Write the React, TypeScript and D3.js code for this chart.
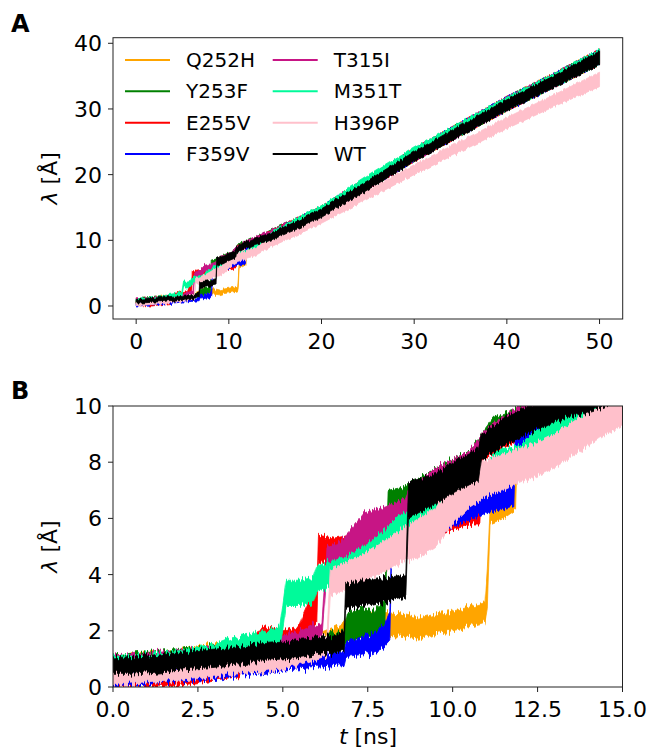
import React from 'react';
import * as d3 from 'd3';

type Knot = [number, number, number]; // [t (ns), lower λ (Å), upper λ (Å)] noise envelope

const seriesNames = ['Q252H', 'Y253F', 'E255V', 'F359V', 'T315I', 'M351T', 'H396P', 'WT'];
const seriesColors = ['orange', 'green', 'red', 'blue', 'mediumvioletred', 'mediumspringgreen', 'pink', 'black'];

const ticksAx = [0, 10, 20, 30, 40, 50];
const ticksAy = [0, 10, 20, 30, 40];
const ticksBx = [0, 2.5, 5, 7.5, 10, 12.5, 15];
const ticksBy = [0, 2, 4, 6, 8, 10];

const bundleTail: Knot[] = [
  [17.5, 11.9, 13.4], [20, 13.6, 15.1], [25, 17.8, 19.5], [30, 22.1, 23.9],
  [35, 26.0, 27.9], [40, 29.8, 31.8], [45, 33.3, 35.3], [50, 36.8, 39.0],
];
const springTail: Knot[] = [
  [17.5, 12.0, 13.5], [20, 13.7, 15.3], [25, 18.0, 19.8], [30, 22.3, 24.1],
  [35, 26.2, 28.0], [40, 29.9, 31.8], [45, 33.3, 35.3], [50, 36.8, 39.1],
];
const wtTail: Knot[] = [
  [17.5, 11.8, 13.0], [20, 13.5, 14.8], [25, 17.7, 19.1], [30, 22.0, 23.5],
  [35, 25.9, 27.5], [40, 29.7, 31.4], [45, 33.2, 35.0], [50, 36.7, 38.8],
];
const pinkTail: Knot[] = [
  [17.5, 10.9, 12.1], [20, 12.6, 13.9], [25, 16.3, 17.7], [30, 20.0, 21.5],
  [35, 23.5, 25.1], [40, 27.0, 28.7], [45, 30.3, 32.1], [50, 33.4, 35.6],
];

const Q252H: Knot[] = [
  [0, 0.5, 1.05], [2, 0.7, 1.3], [2.75, 0.8, 1.5], [4, 0.9, 1.5], [5, 1.0, 1.65], [6, 1.2, 1.85],
  [6.5, 1.6, 2.1], [7, 1.7, 2.4], [7.5, 1.8, 2.6], [8, 1.85, 2.65], [8.5, 1.8, 2.6], [9, 1.7, 2.45],
  [9.5, 1.9, 2.6], [10, 2.0, 2.7], [10.5, 2.15, 2.85], [10.95, 2.3, 3.0], [11.02, 2.8, 4.2],
  [11.1, 5.8, 6.3], [11.5, 6.0, 6.8], [11.85, 6.3, 7.1], [11.9, 8.3, 9.2], [12.5, 8.8, 9.8],
  [13, 9.2, 10.2], [14, 9.8, 10.9], [15, 10.3, 11.7], ...bundleTail,
];
const Y253F: Knot[] = [
  [0, 0.55, 1.1], [2, 0.75, 1.35], [4, 0.95, 1.55], [6, 1.2, 1.8], [6.8, 1.35, 2.0],
  [6.9, 1.6, 2.6], [7.3, 1.7, 2.8], [7.7, 1.75, 2.7], [8.0, 1.9, 3.1], [8.1, 6.2, 7.0],
  [8.5, 6.3, 7.1], [9.0, 6.7, 7.4], [9.5, 7.0, 7.8], [10, 7.3, 8.1], [10.5, 7.6, 8.4],
  [10.9, 8.2, 9.1], [11.2, 8.6, 9.6], [12, 9.0, 9.95], [12.5, 9.3, 10.3], [13, 9.6, 10.6],
  [14, 10.1, 11.2], [15, 10.5, 11.9], ...bundleTail,
];
const E255V: Knot[] = [
  [0, 0.05, 0.5], [1, 0.05, 0.5], [1.7, 0.0, 0.45], [2.2, 0.1, 0.5], [3, 0.25, 0.65],
  [3.6, 0.35, 0.75], [3.7, 0.4, 0.8], [4.1, 1.2, 1.7], [4.4, 1.5, 2.2], [5, 1.55, 2.0],
  [5.5, 1.6, 2.2], [5.6, 1.7, 2.6], [5.85, 2.0, 3.3], [6.0, 2.2, 3.4], [6.05, 4.4, 5.4],
  [6.5, 4.5, 5.3], [7, 4.5, 5.4], [7.5, 4.7, 5.6], [8, 4.9, 5.9], [8.5, 5.1, 6.1],
  [9, 5.3, 6.2], [9.5, 5.4, 6.3], [10, 5.6, 6.4], [10.6, 5.8, 6.6], [10.8, 5.8, 6.6],
  [10.9, 8.1, 9.0], [11.5, 8.5, 9.5], [12, 8.8, 9.8], [13, 9.4, 10.4], [14, 9.9, 11.0],
  [15, 10.4, 11.7], ...bundleTail,
];
const F359V: Knot[] = [
  [0, 0.0, 0.45], [1, 0.1, 0.55], [2, 0.2, 0.65], [3, 0.3, 0.8], [4, 0.45, 0.9], [5, 0.6, 1.0],
  [6, 0.7, 1.15], [6.8, 0.8, 1.3], [6.85, 1.05, 1.6], [7.2, 1.1, 1.7], [7.6, 1.2, 1.9],
  [8.0, 1.4, 2.2], [8.15, 1.6, 2.6], [8.22, 5.5, 6.3], [8.8, 5.4, 6.2], [9.4, 5.4, 6.1],
  [9.8, 5.6, 6.4], [10.2, 5.8, 6.6], [10.6, 6.0, 6.9], [11, 6.2, 7.1], [11.4, 6.3, 7.2],
  [11.8, 6.45, 7.3], [11.85, 8.4, 9.3], [12.5, 8.9, 9.8], [13, 9.2, 10.2], [14, 9.8, 10.8],
  [15, 10.3, 11.5], ...bundleTail,
];
const T315I: Knot[] = [
  [0, 0.55, 1.1], [2, 0.75, 1.3], [4, 0.95, 1.55], [5.5, 1.3, 2.0], [5.9, 1.6, 2.25],
  [6.15, 1.7, 2.2], [6.3, 4.2, 5.0], [6.6, 4.3, 5.1], [7, 4.6, 5.6], [7.4, 5.0, 6.2],
  [8.0, 5.2, 6.4], [8.6, 5.5, 6.7], [8.7, 6.0, 7.0], [9, 6.5, 7.3], [9.5, 7.0, 7.8],
  [10, 7.3, 8.1], [10.5, 7.6, 8.4], [11, 8.3, 9.2], [11.6, 8.8, 9.7], [12.4, 9.3, 10.3],
  [13, 9.6, 10.6], [14, 10.1, 11.2], [15, 10.5, 11.9], ...bundleTail,
];
const M351T: Knot[] = [
  [0, 0.55, 1.1], [0.5, 0.6, 1.1], [1, 0.65, 1.15], [2, 0.75, 1.3], [2.5, 0.85, 1.4],
  [3, 0.95, 1.5], [3.5, 1.1, 1.75], [4, 1.2, 1.85], [4.5, 1.35, 2.0], [4.9, 1.4, 2.1],
  [5.0, 2.0, 2.9], [5.1, 2.9, 3.8], [5.5, 2.9, 3.8], [5.9, 3.0, 3.9], [6.0, 3.4, 4.3],
  [6.5, 3.6, 4.5], [6.8, 3.7, 4.6], [7.2, 3.9, 4.9], [7.6, 4.2, 5.2], [8.0, 4.5, 5.6],
  [8.4, 5.0, 6.1], [8.8, 5.2, 6.3], [9.4, 6.0, 6.6], [9.9, 6.2, 6.9], [10.4, 6.5, 7.3],
  [10.9, 6.9, 7.9], [11.3, 7.1, 8.4], [12, 7.5, 8.6], [12.5, 8.0, 9.2], [13, 8.3, 9.5],
  [14, 9.2, 10.4], [15, 10.2, 11.6], ...springTail,
];
const H396P: Knot[] = [
  [0, 0.05, 0.55], [0.5, 0.1, 0.6], [1, 0.15, 0.65], [1.5, 0.2, 0.75], [2, 0.25, 0.8],
  [2.5, 0.3, 0.85], [3, 0.35, 0.95], [3.5, 0.45, 1.05], [4, 0.5, 1.1], [4.5, 0.55, 1.2],
  [5, 0.65, 1.3], [5.5, 0.8, 1.5], [6, 1.0, 1.7], [6.3, 1.1, 1.9], [6.4, 3.3, 4.2],
  [7, 3.5, 4.5], [7.5, 3.8, 4.8], [8, 4.1, 5.2], [8.6, 4.5, 5.7], [9, 4.6, 6.0],
  [9.5, 5.0, 6.4], [10, 5.8, 7.3], [10.5, 6.4, 7.8], [11, 6.8, 8.1], [11.5, 7.0, 8.3],
  [12, 7.3, 8.5], [12.5, 7.5, 8.7], [13, 7.8, 9.0], [13.5, 8.2, 9.4], [14, 8.6, 9.8],
  [14.5, 9.0, 10.1], [15, 9.3, 10.4], ...pinkTail,
];
const WT: Knot[] = [
  [0, 0.45, 1.0], [0.5, 0.45, 1.05], [1, 0.5, 1.1], [1.5, 0.55, 1.2], [2, 0.6, 1.2],
  [2.5, 0.65, 1.3], [3, 0.7, 1.35], [3.5, 0.8, 1.4], [4, 0.85, 1.5], [4.5, 0.95, 1.55],
  [5, 1.0, 1.6], [5.5, 1.05, 1.7], [6, 1.15, 1.75], [6.5, 1.25, 1.85], [6.8, 1.3, 2.0],
  [6.85, 2.8, 3.7], [7.2, 2.85, 3.75], [7.6, 2.9, 3.8], [8, 3.0, 3.9], [8.3, 3.1, 3.9],
  [8.62, 3.2, 4.0], [8.7, 6.0, 7.3], [9, 6.2, 7.4], [9.5, 6.5, 7.6], [10, 6.9, 8.0],
  [10.5, 7.2, 8.3], [10.75, 7.3, 8.5], [10.85, 8.1, 9.0], [11.7, 8.7, 9.7], [12.9, 9.4, 10.4],
  [14.3, 9.9, 11.0], [15, 10.3, 11.4], ...wtTail,
];

const seriesData: Knot[][] = [Q252H, Y253F, E255V, F359V, T315I, M351T, H396P, WT];

const FONT = 'DejaVu Sans, sans-serif';

type PanelProps = {
  id: string;
  left: number; right: number; top: number; bottom: number;
  xDomain: [number, number]; yDomain: [number, number];
  xTicks: number[]; yTicks: number[];
  xFmt: (v: number) => string;
  jitter: number;
};

function Panel({ id, left, right, top, bottom, xDomain, yDomain, xTicks, yTicks, xFmt, jitter }: PanelProps) {
  const x = d3.scaleLinear().domain(xDomain).range([left, right]);
  const y = d3.scaleLinear().domain(yDomain).range([bottom, top]);
  const area = d3.area<Knot>().x(d => x(d[0])).y0(d => y(d[1])).y1(d => y(d[2]));
  return (
    <g>
      <defs>
        <clipPath id={`clip-${id}`}>
          <rect x={left} y={top} width={right - left} height={bottom - top} />
        </clipPath>
        {seriesData.map((_, i) => (
          <filter key={i} id={`tex-${id}-${i}`} filterUnits="userSpaceOnUse"
            x={left - 10} y={top - 40} width={right - left + 20} height={bottom - top + 80}
            colorInterpolationFilters="sRGB">
            <feTurbulence type="fractalNoise" baseFrequency="0.55 0.002" numOctaves={2} seed={i * 7 + 3} result="turb" />
            <feColorMatrix in="turb" type="matrix" values="1 0 0 0 0  0 0 0 0 0.5  0 0 0 0 0  0 0 0 0 1" result="map" />
            <feDisplacementMap in="SourceGraphic" in2="map" scale={jitter} xChannelSelector="G" yChannelSelector="R" />
          </filter>
        ))}
      </defs>
      <g clipPath={`url(#clip-${id})`}>
        {seriesData.map((s, i) => (
          <g key={i} filter={`url(#tex-${id}-${i})`}>
            <path d={area(s) || ''} fill={seriesColors[i]} stroke={seriesColors[i]} strokeWidth={0.8} strokeLinejoin="round" />
          </g>
        ))}
      </g>
      <rect x={left} y={top} width={right - left} height={bottom - top} fill="none" stroke="#222" strokeWidth={1} />
      {xTicks.map(t => (
        <g key={`x${t}`}>
          <line x1={x(t)} x2={x(t)} y1={bottom} y2={bottom + 5} stroke="#222" strokeWidth={1} />
          <text x={x(t)} y={bottom + 30} textAnchor="middle" fontSize={22} fontFamily={FONT} fill="#000">{xFmt(t)}</text>
        </g>
      ))}
      {yTicks.map(t => (
        <g key={`y${t}`}>
          <line x1={left - 5} x2={left} y1={y(t)} y2={y(t)} stroke="#222" strokeWidth={1} />
          <text x={left - 11} y={y(t) + 8} textAnchor="end" fontSize={22} fontFamily={FONT} fill="#000">{t}</text>
        </g>
      ))}
      <text transform={`translate(57,${(top + bottom) / 2}) rotate(-90)`} textAnchor="middle" fontSize={22} fontFamily={FONT}>
        <tspan fontStyle="italic">λ</tspan> [Å]
      </text>
    </g>
  );
}

export default function App() {
  const legendRows = [60, 91.3, 122.7, 154];
  return (
    <svg width={651} height={749} style={{ display: 'block', position: 'absolute', left: 0, top: 0 }}>
      <rect width={651} height={749} fill="#fff" />
      <text x={11} y={32} fontSize={24} fontWeight="bold" fontFamily={FONT}>A</text>
      <text x={11} y={399} fontSize={24} fontWeight="bold" fontFamily={FONT}>B</text>
      <Panel id="a" left={113} right={622.7} top={37.7} bottom={319}
        xDomain={[-2.5, 52.5]} yDomain={[-1.98, 40.85]}
        xTicks={ticksAx} yTicks={ticksAy} xFmt={v => String(v)} jitter={5} />
      <Panel id="b" left={113} right={622.5} top={406} bottom={687}
        xDomain={[0, 15]} yDomain={[0, 10]}
        xTicks={ticksBx} yTicks={ticksBy} xFmt={v => v.toFixed(1)} jitter={13} />
      <text x={368} y={744} textAnchor="middle" fontSize={22} fontFamily={FONT}>
        <tspan fontStyle="italic">t</tspan> [ns]
      </text>
      {seriesNames.map((n, i) => {
        const col = Math.floor(i / 4);
        const row = i % 4;
        const lx = col === 0 ? 125 : 272.7;
        const ly = legendRows[row];
        return (
          <g key={n}>
            <line x1={lx} x2={lx + 45} y1={ly} y2={ly} stroke={seriesColors[i]} strokeWidth={2} />
            <text x={lx + 61} y={ly + 7} fontSize={20} fontFamily={FONT}>{n}</text>
          </g>
        );
      })}
    </svg>
  );
}
